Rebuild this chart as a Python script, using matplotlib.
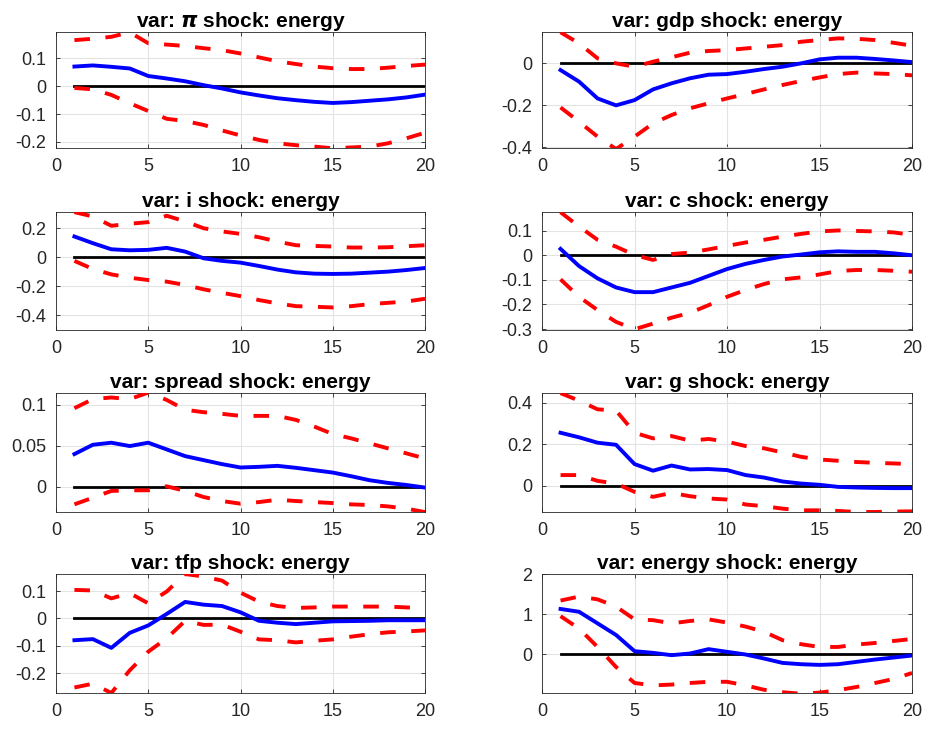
import numpy as np
import matplotlib
matplotlib.use("Agg")
import matplotlib.pyplot as plt

plt.rcParams['font.family'] = ['Liberation Sans', 'DejaVu Sans']

horizon = np.arange(1, 21)

titles = ['var: $\\boldsymbol{\\pi}$ shock: energy', 'var: gdp shock: energy',
          'var: i shock: energy', 'var: c shock: energy',
          'var: spread shock: energy', 'var: g shock: energy',
          'var: tfp shock: energy', 'var: energy shock: energy']

# median responses
pi_mid = [0.071, 0.075, 0.070, 0.064, 0.037, 0.028, 0.018, 0.004, -0.008, -0.022,
          -0.033, -0.043, -0.050, -0.056, -0.060, -0.057, -0.052, -0.047, -0.040, -0.030]
gdp_mid = [-0.032, -0.087, -0.167, -0.200, -0.175, -0.124, -0.095, -0.071, -0.054, -0.051,
           -0.040, -0.027, -0.016, 0.000, 0.019, 0.027, 0.027, 0.021, 0.014, 0.006]
i_mid = [0.143, 0.097, 0.055, 0.048, 0.051, 0.065, 0.039, -0.007, -0.025, -0.037,
         -0.060, -0.085, -0.104, -0.113, -0.115, -0.113, -0.106, -0.099, -0.088, -0.074]
c_mid = [0.026, -0.044, -0.094, -0.131, -0.150, -0.150, -0.131, -0.112, -0.084, -0.056,
         -0.035, -0.019, -0.005, 0.003, 0.012, 0.016, 0.014, 0.014, 0.008, 0.000]
spread_mid = [0.0398, 0.0512, 0.0537, 0.0496, 0.0537, 0.0455, 0.0373, 0.0324, 0.0275, 0.0234,
              0.0242, 0.0254, 0.0230, 0.0201, 0.0172, 0.0127, 0.0078, 0.0045, 0.0020, -0.0012]
g_mid = [0.256, 0.234, 0.208, 0.198, 0.105, 0.073, 0.098, 0.079, 0.081, 0.076,
         0.052, 0.040, 0.021, 0.011, 0.005, -0.005, -0.008, -0.010, -0.011, -0.011]
tfp_mid = [-0.080, -0.076, -0.108, -0.053, -0.026, 0.016, 0.060, 0.050, 0.045, 0.022,
           -0.009, -0.016, -0.021, -0.016, -0.011, -0.010, -0.009, -0.007, -0.007, -0.007]
energy_mid = [1.13, 1.06, 0.77, 0.48, 0.075, 0.033, -0.025, 0.017, 0.126, 0.059,
              -0.008, -0.109, -0.218, -0.251, -0.268, -0.251, -0.192, -0.134, -0.084, -0.033]

# upper bands
pi_up = [0.166, 0.171, 0.178, 0.194, 0.155, 0.150, 0.145, 0.137, 0.130, 0.118,
         0.104, 0.090, 0.080, 0.071, 0.065, 0.062, 0.062, 0.067, 0.073, 0.078]
gdp_up = [0.148, 0.095, 0.024, 0.000, -0.016, 0.008, 0.029, 0.051, 0.059, 0.063,
          0.071, 0.079, 0.087, 0.103, 0.111, 0.119, 0.117, 0.111, 0.098, 0.084]
i_up = [0.311, 0.281, 0.217, 0.231, 0.242, 0.286, 0.247, 0.200, 0.178, 0.161,
        0.138, 0.108, 0.083, 0.078, 0.074, 0.067, 0.067, 0.069, 0.076, 0.083]
c_up = [0.175, 0.117, 0.063, 0.035, 0.001, -0.019, 0.005, 0.011, 0.024, 0.038,
        0.052, 0.063, 0.076, 0.087, 0.097, 0.101, 0.099, 0.097, 0.093, 0.083]
spread_up = [0.0959, 0.107, 0.109, 0.107, 0.115, 0.106, 0.094, 0.091, 0.089, 0.0865,
             0.0865, 0.0865, 0.0816, 0.0734, 0.0643, 0.059, 0.0529, 0.0467, 0.0406, 0.0344]
g_up = [0.447, 0.411, 0.369, 0.363, 0.256, 0.229, 0.240, 0.218, 0.226, 0.213,
        0.192, 0.181, 0.161, 0.140, 0.127, 0.121, 0.115, 0.111, 0.108, 0.105]
tfp_up = [0.104, 0.102, 0.073, 0.092, 0.055, 0.098, 0.162, 0.153, 0.138, 0.094,
          0.061, 0.045, 0.038, 0.040, 0.043, 0.043, 0.043, 0.043, 0.040, 0.037]
energy_up = [1.34, 1.44, 1.37, 1.19, 0.87, 0.85, 0.77, 0.83, 0.87, 0.79,
             0.69, 0.56, 0.35, 0.25, 0.18, 0.18, 0.24, 0.28, 0.33, 0.38]

# lower bands
pi_lo = [-0.006, -0.011, -0.031, -0.061, -0.089, -0.117, -0.125, -0.139, -0.159, -0.177,
         -0.193, -0.205, -0.212, -0.217, -0.223, -0.220, -0.217, -0.205, -0.187, -0.167]
gdp_lo = [-0.210, -0.278, -0.349, -0.408, -0.349, -0.286, -0.246, -0.214, -0.190, -0.167,
          -0.146, -0.124, -0.103, -0.084, -0.067, -0.051, -0.044, -0.048, -0.051, -0.057]
i_lo = [-0.025, -0.081, -0.118, -0.141, -0.157, -0.168, -0.191, -0.221, -0.245, -0.268,
        -0.295, -0.318, -0.337, -0.341, -0.346, -0.337, -0.323, -0.314, -0.305, -0.286]
c_lo = [-0.098, -0.169, -0.223, -0.271, -0.301, -0.278, -0.254, -0.234, -0.203, -0.169,
        -0.141, -0.117, -0.098, -0.090, -0.078, -0.064, -0.060, -0.060, -0.063, -0.067]
spread_lo = [-0.0217, -0.0135, -0.0053, -0.0045, -0.0045, 0.0004, -0.0053, -0.0127, -0.0176, -0.0209,
             -0.0189, -0.016, -0.0176, -0.0189, -0.0201, -0.0217, -0.0225, -0.0242, -0.027, -0.0311]
g_lo = [0.052, 0.052, 0.024, 0.011, -0.029, -0.053, -0.034, -0.050, -0.061, -0.066,
        -0.090, -0.098, -0.110, -0.118, -0.118, -0.121, -0.126, -0.126, -0.124, -0.123]
tfp_lo = [-0.253, -0.239, -0.273, -0.190, -0.122, -0.073, -0.009, -0.024, -0.023, -0.049,
          -0.077, -0.080, -0.088, -0.082, -0.077, -0.067, -0.058, -0.051, -0.048, -0.044]
energy_lo = [0.95, 0.64, 0.18, -0.32, -0.72, -0.78, -0.76, -0.72, -0.69, -0.69,
             -0.78, -0.89, -0.95, -0.99, -0.96, -0.90, -0.82, -0.72, -0.62, -0.47]

mids = [pi_mid, gdp_mid, i_mid, c_mid, spread_mid, g_mid, tfp_mid, energy_mid]
ups = [pi_up, gdp_up, i_up, c_up, spread_up, g_up, tfp_up, energy_up]
los = [pi_lo, gdp_lo, i_lo, c_lo, spread_lo, g_lo, tfp_lo, energy_lo]

ylims = [(-0.222, 0.195), (-0.403, 0.149), (-0.503, 0.311), (-0.305, 0.1755),
         (-0.031, 0.1143), (-0.126, 0.447), (-0.273, 0.1616), (-0.97, 2.0)]
yticks = [[-0.2, -0.1, 0, 0.1], [-0.4, -0.2, 0], [-0.4, -0.2, 0, 0.2],
          [-0.3, -0.2, -0.1, 0, 0.1], [0, 0.05, 0.1], [0, 0.2, 0.4],
          [-0.2, -0.1, 0, 0.1], [0, 1, 2]]
ytick_labels = [['-0.2', '-0.1', '0', '0.1'], ['-0.4', '-0.2', '0'], ['-0.4', '-0.2', '0', '0.2'],
                ['-0.3', '-0.2', '-0.1', '0', '0.1'], ['0', '0.05', '0.1'], ['0', '0.2', '0.4'],
                ['-0.2', '-0.1', '0', '0.1'], ['0', '1', '2']]

fig = plt.figure(figsize=(9.25, 7.29), dpi=100)

col_left = [0.0605, 0.586]
col_width = [0.399, 0.400]
row_bottom = [0.797, 0.547, 0.2977, 0.0494]
row_height = [0.159, 0.162, 0.163, 0.163]

edge = '#262626'
for k in range(8):
    r, c = divmod(k, 2)
    ax = fig.add_axes([col_left[c], row_bottom[r], col_width[c], row_height[r]])
    ax.plot(horizon, np.zeros(len(horizon)), color='black', lw=2.0, zorder=3)
    ax.plot(horizon, mids[k], color='#0000ff', lw=2.8, zorder=4)
    ax.plot(horizon, ups[k], color='#ff0000', lw=2.8, dashes=(4, 4), zorder=4)
    ax.plot(horizon, los[k], color='#ff0000', lw=2.8, dashes=(4, 4), zorder=4)
    ax.set_xlim(0, 20)
    ax.set_ylim(*ylims[k])
    ax.set_xticks([0, 5, 10, 15, 20])
    ax.set_yticks(yticks[k])
    ax.set_yticklabels(ytick_labels[k])
    ax.grid(True, color='#e3e3e3', lw=0.8)
    ax.set_axisbelow(True)
    ax.tick_params(direction='in', length=3, width=0.6, colors=edge,
                   labelsize=13, top=True, right=True, pad=7)
    for s in ax.spines.values():
        s.set_color(edge)
        s.set_linewidth(0.6)
    ax.set_title(titles[k], fontsize=15, fontweight='bold', pad=4)

fig.savefig('out.png', dpi=100)
